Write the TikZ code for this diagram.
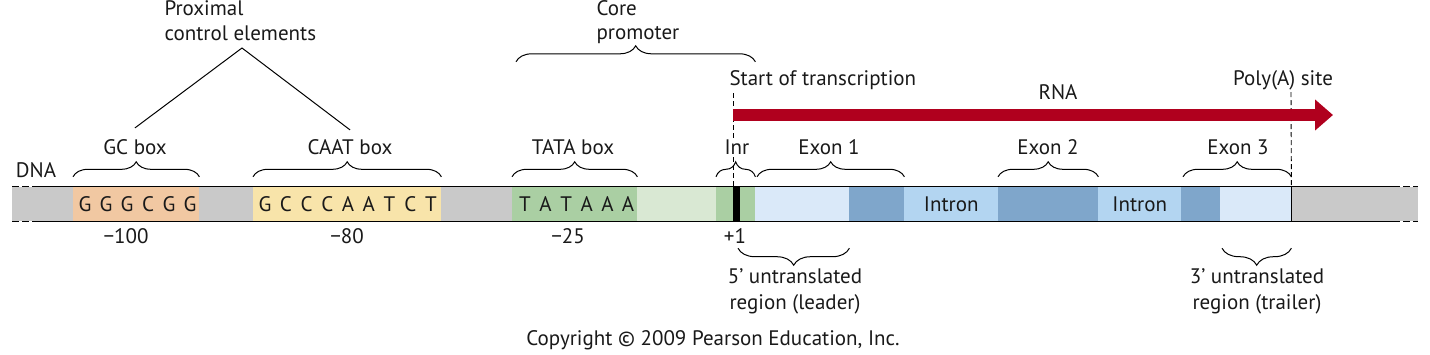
\documentclass[tikz,border=0pt]{standalone}
\usepackage{fontspec}
\setmainfont{PT Sans}
\usetikzlibrary{decorations.pathreplacing,arrows.meta,positioning}

\definecolor{dnaGray}{HTML}{C9C9C9}
\definecolor{gcOrange}{HTML}{F1C8A2}
\definecolor{caatYellow}{HTML}{F8E4AA}
\definecolor{tataGreen}{HTML}{AACFA3}
\definecolor{paleGreen}{HTML}{D9E8D3}
\definecolor{utrBlue}{HTML}{DAE9F9}
\definecolor{exonBlue}{HTML}{7FA6CB}
\definecolor{intronBlue}{HTML}{B3D5F1}
\definecolor{rnaRed}{HTML}{B0001E}

\begin{document}
\begin{tikzpicture}[x=1pt, y=-1pt,
    every node/.style={font=\fontsize{21}{26}\selectfont, text=black!90},
    seg/.style={inner sep=0pt, minimum height=34pt, anchor=west},
    upbrace/.style={decorate, decoration={brace, amplitude=15pt}, line width=1pt},
    downbrace/.style={decorate, decoration={brace, mirror, amplitude=17pt}, line width=1pt},
    siteline/.style={dash pattern=on 5pt off 3pt, line width=0.9pt}]
    \useasboundingbox (0,0) rectangle (1430,354);

    % DNA bar and its regions
    \node[seg, fill=dnaGray, minimum width=1406pt] (dna) at (12,204) {};
    \node[seg, fill=gcOrange, minimum width=126pt] (gc) at (73,204) {};
    \node[seg, fill=caatYellow, minimum width=188pt] (caat) at (253,204) {};
    \node[seg, fill=tataGreen, minimum width=125pt] (tata) at (512,204) {};
    \node[seg, fill=paleGreen, minimum width=79pt] (gap) at (637,204) {};
    \node[seg, fill=tataGreen, minimum width=39pt] (inr) at (716,204) {};
    \node[seg, fill=black, minimum width=7pt] (mark) at (733,204) {};
    \node[seg, fill=utrBlue, minimum width=94pt] (utr5) at (755,204) {};
    \node[seg, fill=exonBlue, minimum width=55pt] (ex1) at (849,204) {};
    \node[seg, fill=intronBlue, minimum width=94pt] (int1) at (904,204) {Intron};
    \node[seg, fill=exonBlue, minimum width=100pt] (ex2) at (998,204) {};
    \node[seg, fill=intronBlue, minimum width=83pt] (int2) at (1098,204) {Intron};
    \node[seg, fill=exonBlue, minimum width=39pt] (ex3) at (1181,204) {};
    \node[seg, fill=utrBlue, minimum width=71pt] (utr3) at (1220,204) {};

    \draw[line width=1.3pt] ([xshift=26pt]dna.north west) -- ([xshift=-25pt]dna.north east);
    \draw[line width=1.3pt] ([xshift=26pt]dna.south west) -- ([xshift=-25pt]dna.south east);
    \draw[line width=1.3pt, dash pattern=on 7pt off 3pt] (dna.north west) -- ([xshift=26pt]dna.north west);
    \draw[line width=1.3pt, dash pattern=on 7pt off 3pt] (dna.south west) -- ([xshift=26pt]dna.south west);
    \draw[line width=1.3pt, dash pattern=on 7pt off 3pt] ([xshift=-25pt]dna.north east) -- (dna.north east);
    \draw[line width=1.3pt, dash pattern=on 7pt off 3pt] ([xshift=-25pt]dna.south east) -- (dna.south east);
    \draw[line width=1pt] (utr3.north east) -- (utr3.south east);

    % sequences
    \foreach \b [count=\i from 0] in {G,G,G,C,G,G}
        \node (gc\i) at (85+21*\i,204) {\b};
    \foreach \b [count=\i from 0] in {G,C,C,C,A,A,T,C,T}
        \node (caat\i) at (265+20.75*\i,204) {\b};
    \foreach \b [count=\i from 0] in {T,A,T,A,A,A}
        \node (tata\i) at (525+20.6*\i,204) {\b};

    \node (dnaLbl) at (36,170) {DNA};

    % site lines
    \draw[siteline] (733,93) -- (mark.north west);
    \draw[siteline] (1291,92) -- (utr3.north east);

    % positions
    \node (p100) at (126,236) {−100};
    \node (p80) at (347,236) {−80};
    \node (p25) at (568,236) {−25};
    \node (p1) at (735,236) {+1};

    % element labels
    \node (gcLbl) at (135,147) {GC box};
    \node (caatLbl) at (350,147) {CAAT box};
    \node (tataLbl) at (573,147) {TATA box};
    \node[fill=white, inner sep=1pt] (inrLbl) at (737,147) {Inr};
    \node (ex1Lbl) at (829,147) {Exon 1};
    \node (ex2Lbl) at (1048,147) {Exon 2};
    \node (ex3Lbl) at (1238,147) {Exon 3};

    \draw[upbrace] ([yshift=10pt]gc.north west) -- ([yshift=10pt]gc.north east);
    \draw[upbrace] ([yshift=10pt]caat.north west) -- ([yshift=10pt]caat.north east);
    \draw[upbrace] ([yshift=10pt]tata.north west) -- ([yshift=10pt]tata.north east);
    \draw[upbrace] ([yshift=10pt]inr.north west) -- ([yshift=10pt]inr.north east);
    \draw[upbrace] ([xshift=2pt,yshift=10pt]utr5.north west) -- ([yshift=10pt]ex1.north east);
    \draw[upbrace] ([yshift=10pt]ex2.north west) -- ([yshift=10pt]ex2.north east);
    \draw[upbrace] ([xshift=2pt,yshift=10pt]ex3.north west) -- ([yshift=10pt]utr3.north east);

    % proximal control elements
    \node[align=left, anchor=west, font=\fontsize{21}{25}\selectfont] (prox) at (161,21) {Proximal\\control elements};
    \coordinate (apex) at (242,48);
    \draw[line width=1pt] ([yshift=8pt]gcLbl.north) -- (apex) -- ([yshift=6pt]caatLbl.north);

    % core promoter
    \node[align=left, anchor=west, font=\fontsize{21}{24}\selectfont] (core) at (593,22) {Core\\promoter};
    \draw[decorate, decoration={brace, amplitude=16pt}, line width=1pt]
        ([xshift=4pt,yshift=125pt]tata.north west) -- ([yshift=125pt]inr.north east);

    % transcription
    \node[anchor=west] (tssLbl) at (726,80) {Start of transcription};
    \node (polyLbl) at (1283,80) {Poly(A) site};
    \node (rnaLbl) at (1058,92) {RNA};
    \coordinate (tss) at (733,115);
    \coordinate (rnaEnd) at (1333,115);
    \draw[rnaRed, line width=12pt, -{Triangle[length=18pt, width=30pt]}] (tss) -- (rnaEnd);

    % untranslated regions
    \draw[downbrace] ([xshift=5pt,yshift=-27pt]mark.south west) -- ([yshift=-27pt]utr5.south east);
    \draw[downbrace] ([xshift=2pt,yshift=-27pt]utr3.south west) -- ([yshift=-27pt]utr3.south east);
    \node[align=center] (utr5Lbl) at (795,291) {5’ untranslated\\region (leader)};
    \node[align=center] (utr3Lbl) at (1257,291) {3’ untranslated\\region (trailer)};

    \node (copy) at (713,340) {Copyright © 2009 Pearson Education, Inc.};
\end{tikzpicture}
\end{document}
